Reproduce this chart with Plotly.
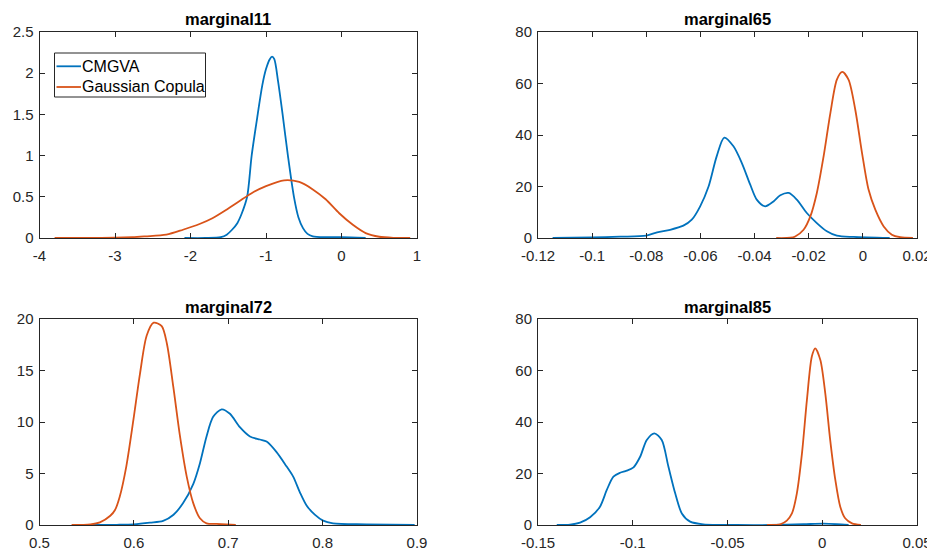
import plotly.graph_objects as go

# ---------------- data ----------------
titles = ["marginal11", "marginal65", "marginal72", "marginal85"]
series_names = ["CMGVA", "Gaussian Copula"]

m11_cmgva_x = [-2.08, -1.8, -1.6, -1.52, -1.45, -1.38, -1.32, -1.25, -1.19, -1.11, -1.05, -1.0,
               -0.95, -0.92, -0.89, -0.84, -0.78, -0.71, -0.63, -0.57, -0.51, -0.45, -0.38,
               -0.2, 0.0, 0.32]
m11_cmgva_y = [0.0, 0.0, 0.01, 0.04, 0.1, 0.18, 0.3, 0.5, 1.0, 1.5, 1.85, 2.05,
               2.17, 2.2, 2.17, 1.9, 1.5, 1.0, 0.5, 0.25, 0.12, 0.05, 0.02,
               0.01, 0.01, 0.0]
m11_gc_x = [-3.8, -3.0, -2.77, -2.6, -2.32, -2.1, -1.88, -1.71, -1.53, -1.35, -1.18, -1.0,
            -0.76, -0.56, -0.38, -0.21, -0.03, 0.15, 0.32, 0.5, 0.7, 0.91]
m11_gc_y = [0.0, 0.003, 0.01, 0.02, 0.04, 0.1, 0.17, 0.24, 0.34, 0.45, 0.55, 0.63,
            0.70, 0.68, 0.59, 0.47, 0.30, 0.16, 0.06, 0.015, 0.002, 0.0]

m65_cmgva_x = [-0.1146, -0.1, -0.0897, -0.08, -0.076, -0.0712, -0.0663, -0.0632, -0.0601,
               -0.057, -0.054, -0.0512, -0.0478, -0.0447, -0.0416, -0.0392, -0.0361, -0.033,
               -0.0305, -0.0274, -0.0244, -0.0207, -0.017, -0.0133, -0.0096, -0.0034, 0.0099]
m65_cmgva_y = [0.0, 0.2, 0.5, 0.9, 2.2, 3.2, 4.8, 7.1, 12.3,
               20.0, 31.7, 39.0, 35.6, 29.1, 20.7, 14.9, 12.3, 14.2,
               16.6, 17.5, 14.9, 9.7, 5.8, 2.6, 0.9, 0.4, 0.0]
m65_gc_x = [-0.032, -0.0268, -0.025, -0.0219, -0.0194, -0.017, -0.0145, -0.012, -0.0096,
            -0.0076, -0.0053, -0.0028, -0.0003, 0.0021, 0.0046, 0.0077, 0.0107, 0.0138, 0.0185]
m65_gc_y = [0.0, 0.1, 0.6, 3.2, 8.4, 17.5, 31.7, 48.5, 61.5,
            64.5, 61.5, 49.8, 33.0, 18.8, 11.0, 4.5, 1.3, 0.3, 0.0]

m72_cmgva_x = [0.5466, 0.582, 0.5995, 0.617, 0.631, 0.642, 0.652, 0.663, 0.670, 0.677, 0.684,
               0.693, 0.7018, 0.7123, 0.723, 0.7335, 0.7406, 0.751, 0.7617, 0.7688, 0.7758,
               0.783, 0.7917, 0.8005, 0.811, 0.8464, 0.8975]
m72_cmgva_y = [0.0, 0.02, 0.06, 0.22, 0.4, 1.0, 2.1, 4.0, 6.0, 8.6, 10.5,
               11.23, 10.8, 9.5, 8.6, 8.3, 8.1, 7.1, 5.7, 4.7, 3.2,
               1.9, 1.0, 0.42, 0.16, 0.07, 0.0]
m72_gc_x = [0.534, 0.554, 0.564, 0.575, 0.580, 0.585, 0.592, 0.5995, 0.6065, 0.6136, 0.621,
            0.6295, 0.635, 0.6418, 0.6489, 0.656, 0.663, 0.670, 0.677, 0.6877, 0.708]
m72_gc_y = [0.0, 0.06, 0.26, 0.9, 1.46, 2.75, 5.7, 10.2, 14.7, 18.4, 19.64,
            19.3, 17.6, 13.4, 8.6, 4.7, 2.1, 0.65, 0.16, 0.1, 0.0]

m85_cmgva_x = [-0.1401, -0.1331, -0.1278, -0.1225, -0.1173, -0.1137, -0.1102, -0.1067, -0.1032,
               -0.0996, -0.0961, -0.0926, -0.0886, -0.0847, -0.0812, -0.0776, -0.0741, -0.0697,
               -0.0627, -0.045, -0.0275, -0.0099, 0.0007, 0.0077, 0.0139]
m85_cmgva_y = [0.0, 0.13, 0.9, 3.0, 7.1, 13.6, 18.8, 20.3, 21.1,
               22.4, 26.5, 33.0, 35.6, 33.0, 22.7, 12.3, 4.5, 1.3,
               0.26, 0.0, 0.0, 0.3, 0.5, 0.3, 0.0]
m85_gc_x = [-0.0292, -0.0222, -0.0187, -0.016, -0.0134, -0.0107, -0.0081, -0.0055, -0.0037,
            -0.001, 0.0016, 0.0042, 0.0069, 0.0095, 0.0121, 0.0157, 0.0204]
m85_gc_y = [0.0, 0.26, 1.7, 4.5, 12.3, 27.8, 48.5, 65.4, 68.6,
            64.1, 51.1, 33.0, 17.5, 7.1, 2.6, 0.65, 0.0]

# axis ranges and ticks
x_ranges = [[-4, 1], [-0.12, 0.02], [0.5, 0.9], [-0.15, 0.05]]
y_ranges = [[0, 2.5], [0, 80], [0, 20], [0, 80]]
x_tickvals = [[-4, -3, -2, -1, 0, 1],
              [-0.12, -0.1, -0.08, -0.06, -0.04, -0.02, 0, 0.02],
              [0.5, 0.6, 0.7, 0.8, 0.9],
              [-0.15, -0.1, -0.05, 0, 0.05]]
x_ticktext = [["-4", "-3", "-2", "-1", "0", "1"],
              ["-0.12", "-0.1", "-0.08", "-0.06", "-0.04", "-0.02", "0", "0.02"],
              ["0.5", "0.6", "0.7", "0.8", "0.9"],
              ["-0.15", "-0.1", "-0.05", "0", "0.05"]]
y_tickvals = [[0, 0.5, 1, 1.5, 2, 2.5],
              [0, 20, 40, 60, 80],
              [0, 5, 10, 15, 20],
              [0, 20, 40, 60, 80]]
y_ticktext = [["0", "0.5", "1", "1.5", "2", "2.5"],
              ["0", "20", "40", "60", "80"],
              ["0", "5", "10", "15", "20"],
              ["0", "20", "40", "60", "80"]]

panels = [
    (m11_cmgva_x, m11_cmgva_y, m11_gc_x, m11_gc_y),
    (m65_cmgva_x, m65_cmgva_y, m65_gc_x, m65_gc_y),
    (m72_cmgva_x, m72_cmgva_y, m72_gc_x, m72_gc_y),
    (m85_cmgva_x, m85_cmgva_y, m85_gc_x, m85_gc_y),
]

# ---------------- layout / style ----------------
OFF = 8  # page body margin offset
W, H = 935 - OFF, 551 - OFF
BLUE = "#0072BD"
ORANGE = "#D95319"
COLORS = [BLUE, ORANGE]
AX = "#262626"
FONT = "Liberation Sans, Arial, Helvetica, sans-serif"


def px_x(p):
    return (p - OFF) / W


def px_y(p):
    return 1 - (p - OFF) / H


xdoms = [[px_x(39.5), px_x(417.0)], [px_x(538.0), px_x(917.0)]]
ydoms_px = [(32, 238), (319, 525)]
ydoms = [[px_y(b), px_y(t)] for (t, b) in ydoms_px]

fig = go.Figure()
layout = dict(
    width=W, height=H,
    margin=dict(l=0, r=0, t=0, b=0, autoexpand=False),
    paper_bgcolor="white", plot_bgcolor="white",
    font=dict(family=FONT, size=15, color=AX),
    showlegend=False,
)
annotations = []
shapes = []

for i, (cx, cy, gx, gy) in enumerate(panels):
    row, col = divmod(i, 2)
    sfx = "" if i == 0 else str(i + 1)
    xa = "x" + sfx
    ya = "y" + sfx
    fig.add_trace(go.Scatter(x=cx, y=cy, mode="lines", name=series_names[0],
                             line=dict(color=BLUE, width=1.8, shape="spline", smoothing=0.8),
                             xaxis=xa, yaxis=ya))
    fig.add_trace(go.Scatter(x=gx, y=gy, mode="lines", name=series_names[1],
                             line=dict(color=ORANGE, width=1.8, shape="spline", smoothing=0.8),
                             xaxis=xa, yaxis=ya))
    common = dict(showgrid=False, zeroline=False, showline=True, linecolor=AX, linewidth=1,
                  mirror="ticks", ticks="inside", ticklen=5, tickcolor=AX, tickwidth=1,
                  tickfont=dict(family=FONT, size=15, color=AX), tickmode="array",
                  automargin=False)
    layout["xaxis" + sfx] = dict(common, domain=xdoms[col], range=x_ranges[i],
                                 tickvals=x_tickvals[i], ticktext=x_ticktext[i],
                                 anchor=ya, ticklabelstandoff=4)
    layout["yaxis" + sfx] = dict(common, domain=ydoms[row], range=y_ranges[i],
                                 tickvals=y_tickvals[i], ticktext=y_ticktext[i],
                                 anchor=xa, ticklabelstandoff=2)
    t_px = 19 if row == 0 else 307
    annotations.append(dict(
        text="<b>" + titles[i] + "</b>", xref="paper", yref="paper",
        x=(xdoms[col][0] + xdoms[col][1]) / 2, y=px_y(t_px),
        xanchor="center", yanchor="middle", showarrow=False,
        font=dict(family=FONT, size=16.5, color="black")))

# legend box (MATLAB style) in the first panel
shapes.append(dict(type="rect", xref="paper", yref="paper",
                   x0=px_x(54.5), x1=px_x(205.5), y0=px_y(97), y1=px_y(53),
                   line=dict(color=AX, width=1), fillcolor="white", layer="above"))
row_px = [66.3, 87.0]
for k, name in enumerate(series_names):
    shapes.append(dict(type="line", xref="paper", yref="paper",
                       x0=px_x(56.5), x1=px_x(81), y0=px_y(row_px[k]), y1=px_y(row_px[k]),
                       line=dict(color=COLORS[k], width=1.8), layer="above"))
    annotations.append(dict(
        text=name, xref="paper", yref="paper", x=px_x(81), y=px_y(row_px[k]),
        xanchor="left", yanchor="middle", showarrow=False, borderpad=0,
        font=dict(family=FONT, size=16, color="black")))

layout["annotations"] = annotations
layout["shapes"] = shapes
fig.update_layout(**layout)
fig.write_html("out.html")
